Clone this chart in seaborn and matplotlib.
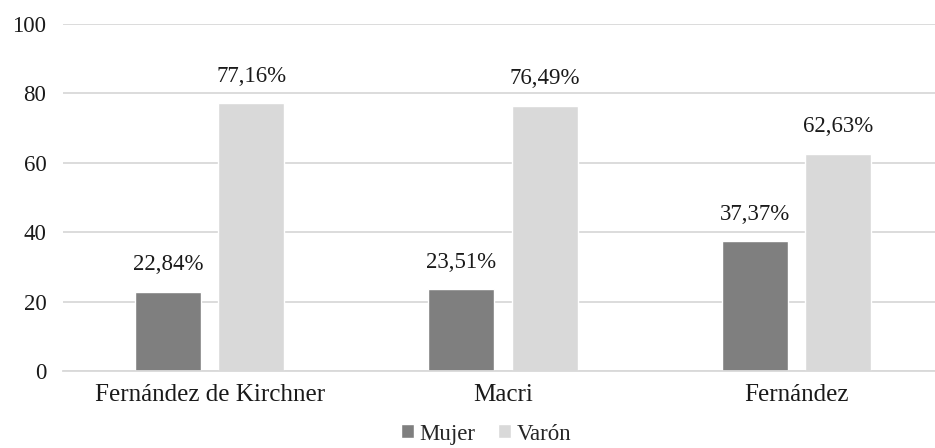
import matplotlib
matplotlib.use('Agg')
import matplotlib.pyplot as plt
import seaborn as sns
import pandas as pd

candidatos = ['Fernández de Kirchner', 'Macri', 'Fernández']
mujer = [22.84, 23.51, 37.37]
varon = [77.16, 76.49, 62.63]
series = ['Mujer', 'Varón']
colores = ['#7f7f7f', '#d9d9d9']

df = pd.DataFrame({
    'candidato': candidatos * 2,
    'sexo': ['Mujer'] * 3 + ['Varón'] * 3,
    'valor': mujer + varon,
})

sns.set_theme(style='white')
plt.rcParams['font.family'] = ['Liberation Serif', 'DejaVu Serif']

fig = plt.figure(figsize=(9.35, 4.48), dpi=100)
ax = fig.add_axes([63 / 935, 77 / 448, 872 / 935, 347 / 448])

sns.barplot(data=df, x='candidato', y='valor', hue='sexo', hue_order=series,
            palette=colores, width=0.566, gap=0.205, ax=ax, saturation=1,
            legend=True, errorbar=None)

for cont, vals in zip(ax.containers, [mujer, varon]):
    ax.bar_label(cont, labels=[f'{v:.2f}%'.replace('.', ',') for v in vals],
                 padding=12, fontsize=16.5, color='#1a1a1a')

ax.set_ylim(0, 100)
ax.set_xlim(-0.5, 2.5 - 8 / 293.3)
ax.set_yticks(range(0, 101, 20))
ax.yaxis.grid(True, color='#d9d9d9', linewidth=1.3)
ax.set_axisbelow(True)
for s in ['top', 'right', 'left']:
    ax.spines[s].set_visible(False)
ax.spines['bottom'].set_color('#d9d9d9')
ax.spines['bottom'].set_linewidth(1.3)
ax.tick_params(axis='both', length=0, colors='#1a1a1a')
ax.tick_params(axis='y', pad=12, labelsize=16.5)
ax.tick_params(axis='x', pad=9, labelsize=18)
ax.set_xlabel('')
ax.set_ylabel('')

ax.legend(handles=ax.get_legend_handles_labels()[0], labels=series,
          loc='center', bbox_to_anchor=(486 / 935, 14 / 448),
          bbox_transform=fig.transFigure, ncol=2, frameon=False,
          fontsize=16.5, handlelength=0.55, handleheight=0.55,
          handletextpad=0.25, columnspacing=1.0, borderpad=0.1)

fig.savefig('out.png', dpi=100)
